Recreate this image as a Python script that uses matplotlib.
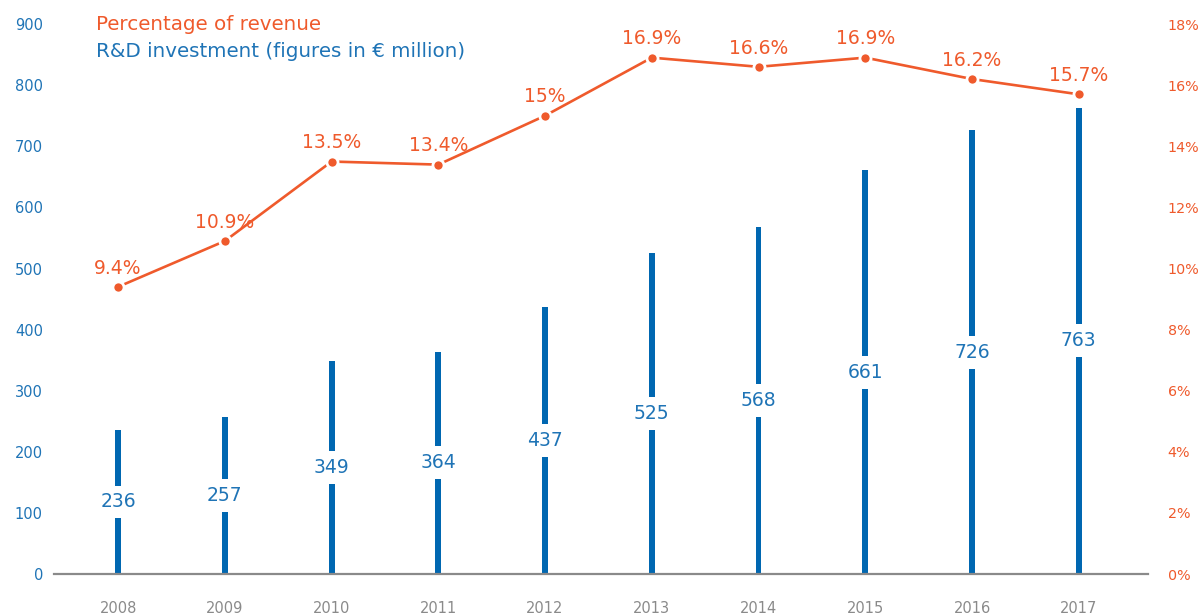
import matplotlib.pyplot as plt
import numpy as np

years = ['2008', '2009', '2010', '2011', '2012', '2013', '2014', '2015', '2016', '2017']
invest = [236, 257, 349, 364, 437, 525, 568, 661, 726, 763]
pct = [9.4, 10.9, 13.5, 13.4, 15.0, 16.9, 16.6, 16.9, 16.2, 15.7]
pct_labels = ['9.4%', '10.9%', '13.5%', '13.4%', '15%', '16.9%', '16.6%', '16.9%', '16.2%', '15.7%']

blue = '#0067b1'
blue_txt = '#1f74b6'
orange = '#ef5a2c'
grey = '#8a8a8a'

plt.rcParams['font.family'] = 'DejaVu Sans'

fig = plt.figure(figsize=(12.01, 6.16), dpi=100)
ax = fig.add_axes([0.045, 0.068, 0.911, 0.893])
x = np.arange(len(years))

# investment bars with value labels in the middle
ax.bar(x, invest, width=0.055, color=blue, zorder=2)
for xi, v in zip(x, invest):
    ax.text(xi, v / 2, str(v), ha='center', va='center', color=blue_txt, fontsize=13.5,
            bbox=dict(facecolor='white', edgecolor='none', pad=5), zorder=3)

ax.set_xlim(-0.6, 9.65)
ax.set_ylim(0, 900)
ax.set_yticks(range(0, 901, 100))
ax.set_xticks(x)
ax.set_xticklabels(years)
ax.tick_params(axis='y', length=0, pad=8, labelsize=10.5, labelcolor=blue_txt)
ax.tick_params(axis='x', length=0, pad=19, labelsize=10.5, labelcolor=grey)
for s in ['top', 'right', 'left']:
    ax.spines[s].set_visible(False)
ax.spines['bottom'].set_color(grey)
ax.spines['bottom'].set_linewidth(1.6)
ax.spines['bottom'].set_zorder(4)

# share of revenue on the right axis
ax2 = ax.twinx()
ax2.set_ylim(0, 18)
ax2.set_yticks(range(0, 19, 2))
ax2.set_yticklabels([f'{t}%' for t in range(0, 19, 2)])
ax2.tick_params(axis='y', length=0, pad=14, labelsize=10.3, labelcolor=orange)
for s in ax2.spines.values():
    s.set_visible(False)
ax2.plot(x, pct, color=orange, lw=1.9, marker='o', markersize=8,
         markerfacecolor=orange, markeredgecolor='white', markeredgewidth=2, zorder=3)
for xi, p, lab in zip(x, pct, pct_labels):
    ax2.annotate(lab, (xi, p), xytext=(0, 13.5), textcoords='offset points',
                 ha='center', va='center', color=orange, fontsize=13.5)

fig.text(0.08, 0.961, 'Percentage of revenue', color=orange, fontsize=14.3, va='center')
fig.text(0.08, 0.916, 'R&D investment (figures in € million)', color=blue_txt, fontsize=14.3, va='center')

fig.savefig('out.png', dpi=100)
